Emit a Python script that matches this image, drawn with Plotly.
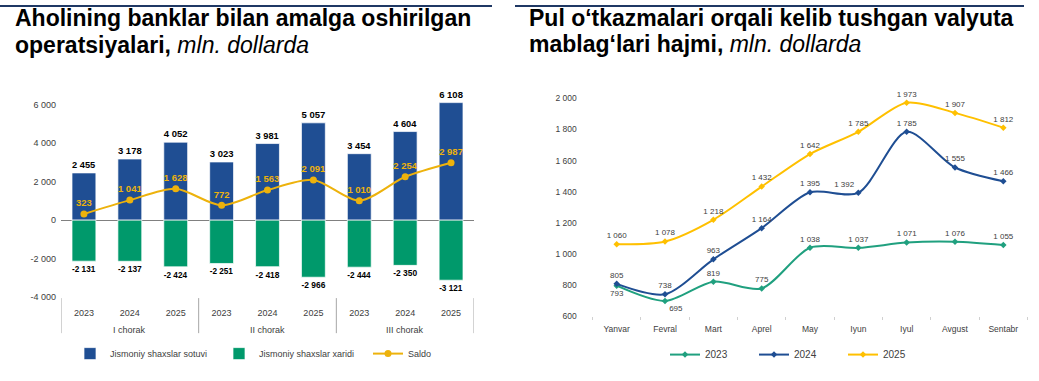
import plotly.graph_objects as go

# ---------------- data: left chart ----------------
quarters = ["I chorak", "II chorak", "III chorak"]
years = ["2023", "2024", "2025"]
sales = [2455, 3178, 4052, 3023, 3981, 5057, 3454, 4604, 6108]
purchases = [-2131, -2137, -2424, -2251, -2418, -2966, -2444, -2350, -3121]
saldo = [323, 1041, 1628, 772, 1563, 2091, 1010, 2254, 2987]
left_ticks = [-4000, -2000, 0, 2000, 4000, 6000]
left_names = ["Jismoniy shaxslar sotuvi", "Jismoniy shaxslar xaridi", "Saldo"]

# ---------------- data: right chart ----------------
months = ["Yanvar", "Fevral", "Mart", "Aprel", "May", "Iyun", "Iyul", "Avgust", "Sentabr"]
r2023 = [793, 695, 819, 775, 1038, 1037, 1071, 1076, 1055]
r2024 = [805, 738, 963, 1164, 1395, 1392, 1785, 1555, 1466]
r2025 = [1060, 1078, 1218, 1432, 1642, 1785, 1973, 1907, 1812]
right_ticks = [600, 800, 1000, 1200, 1400, 1600, 1800, 2000]
right_names = ["2023", "2024", "2025"]


def fmt(v):
    return f"{v:,}".replace(",", " ")


W, H = 1039, 381
FONT = "Liberation Sans, Arial, sans-serif"
BLUE = "#1F4E93"
GREEN = "#00996B"
GOLD = "#EDB20C"
T23 = "#20A07F"
T25 = "#FFC000"

n_y = len(years)
xpos = list(range(len(quarters) * n_y))          # one slot per (quarter, year)
xlabels = [y for _ in quarters for y in years]

fig = go.Figure()

fig.add_trace(go.Bar(
    x=xpos, y=sales, name=left_names[0], marker=dict(color=BLUE, line=dict(color="rgba(255,255,255,0.7)", width=1)),
    text=[fmt(v) for v in sales], textposition="outside", cliponaxis=False,
    textfont=dict(family=FONT, size=9.5, color="#000000", weight="bold"),
    width=0.52, xaxis="x", yaxis="y", legend="legend"))
fig.add_trace(go.Bar(
    x=xpos, y=purchases, name=left_names[1], marker=dict(color=GREEN, line=dict(color="rgba(255,255,255,0.7)", width=1)),
    text=[fmt(v) for v in purchases], textposition="outside", cliponaxis=False,
    textfont=dict(family=FONT, size=9.5, color="#000000", weight="bold"),
    width=0.52, xaxis="x", yaxis="y", legend="legend"))
fig.add_trace(go.Scatter(
    x=xpos, y=saldo, name=left_names[2], mode="lines+markers+text",
    line=dict(color=GOLD, width=2, shape="spline", smoothing=0.8),
    marker=dict(color=GOLD, size=7),
    text=[fmt(v) for v in saldo], textposition="top center", cliponaxis=False,
    textfont=dict(family=FONT, size=9.5, color=GOLD, weight="bold"),
    xaxis="x", yaxis="y", legend="legend"))

# right chart
pos2023 = ["bottom center", "bottom right"] + ["top center"] * 7
pos2024 = ["top center"] * 5 + ["top left"] + ["top center"] * 3
pos2025 = ["top center"] * 9
for name, vals, col, pos in [(right_names[0], r2023, T23, pos2023),
                             (right_names[1], r2024, BLUE, pos2024),
                             (right_names[2], r2025, T25, pos2025)]:
    fig.add_trace(go.Scatter(
        x=months, y=vals, name=name, mode="lines+markers+text",
        line=dict(color=col, width=2, shape="spline", smoothing=0.8),
        marker=dict(color=col, size=5, symbol="diamond"),
        text=[fmt(v) for v in vals], textposition=pos, cliponaxis=False,
        textfont=dict(family=FONT, size=8, color="#404040"),
        xaxis="x2", yaxis="y2", legend="legend2"))


def px_x(p):
    return p / W


def px_y(p):
    return 1 - p / H


fig.update_layout(
    width=W, height=H, margin=dict(l=0, r=0, t=0, b=0),
    paper_bgcolor="white", plot_bgcolor="white",
    font=dict(family=FONT, color="#404040"),
    barmode="relative", separators=". ",
    xaxis=dict(domain=[px_x(61), px_x(474)], range=[-0.5, len(xpos) - 0.5], showgrid=False, showline=False,
               zeroline=False, tickvals=xpos, ticktext=xlabels, ticks="",
               tickfont=dict(size=9, color="#404040"), ticklabelstandoff=9),
    yaxis=dict(domain=[px_y(300), px_y(92.5)], range=[-4000, 6500], showgrid=False,
               zeroline=True, zerolinecolor="#808080", zerolinewidth=1, showline=False,
               tickvals=left_ticks, ticktext=[fmt(v) for v in left_ticks],
               tickfont=dict(size=9, color="#404040"), ticklabelstandoff=4),
    xaxis2=dict(domain=[px_x(591.75), px_x(1028.25)], type="category", showgrid=False, showline=False,
                zeroline=False, ticks="outside", tickson="boundaries", ticklen=3, tickcolor="#D0D0D0",
                tickfont=dict(size=8.5, color="#404040"), ticklabelstandoff=7, anchor="y2"),
    yaxis2=dict(domain=[px_y(319), px_y(96)], range=[600, 2000], showgrid=False, zeroline=False,
                showline=False, tickvals=right_ticks, ticktext=[fmt(v) for v in right_ticks],
                tickfont=dict(size=8.5, color="#404040"), ticklabelstandoff=14, anchor="x2"),
    legend=dict(orientation="h", x=px_x(70), y=px_y(358), xanchor="left", yanchor="middle",
                font=dict(size=9, color="#404040"), entrywidth=104, itemwidth=30,
                bgcolor="rgba(0,0,0,0)"),
    legend2=dict(orientation="h", x=px_x(665), y=px_y(359), xanchor="left", yanchor="middle",
                 font=dict(size=10, color="#404040"), entrywidth=44, itemwidth=30,
                 bgcolor="rgba(0,0,0,0)"),
    showlegend=True,
)

# quarter group labels and dividers under the left category axis
for i, q in enumerate(quarters):
    fig.add_annotation(text=q, xref="x", yref="paper", x=i * n_y + (n_y - 1) / 2, y=px_y(334),
                       xanchor="center", yanchor="middle", showarrow=False,
                       font=dict(family=FONT, size=9, color="#404040"))
for i in range(len(quarters) + 1):
    fig.add_shape(type="line", xref="x", yref="paper", x0=i * n_y - 0.5, x1=i * n_y - 0.5,
                  y0=px_y(301), y1=px_y(337), line=dict(color="#A6A6A6", width=1))

# header lines
fig.add_shape(type="line", xref="paper", yref="paper", x0=0, x1=px_x(492), y0=px_y(1), y1=px_y(1),
              line=dict(color="#1F3864", width=2))
fig.add_shape(type="line", xref="paper", yref="paper", x0=px_x(515), x1=px_x(1024), y0=px_y(1), y1=px_y(1),
              line=dict(color="#1F3864", width=2))

TF = dict(family=FONT, size=23, color="#000000")
titles = [
    (13, 13, "<b>Aholining banklar bilan amalga oshirilgan</b>"),
    (13, 41, "<b>operatsiyalari,</b> <i>mln. dollarda</i>"),
    (527, 13, "<b>Pul o‘tkazmalari orqali kelib tushgan valyuta</b>"),
    (527, 40, "<b>mablag‘lari hajmi,</b> <i>mln. dollarda</i>"),
]
for x, y, t in titles:
    fig.add_annotation(text=t, xref="paper", yref="paper", x=px_x(x), y=px_y(y),
                       xanchor="left", yanchor="middle", showarrow=False, font=TF)

fig.write_html("out.html", config={"displayModeBar": False},
               post_script="document.body.style.margin='0px';document.body.style.overflow='hidden';")
